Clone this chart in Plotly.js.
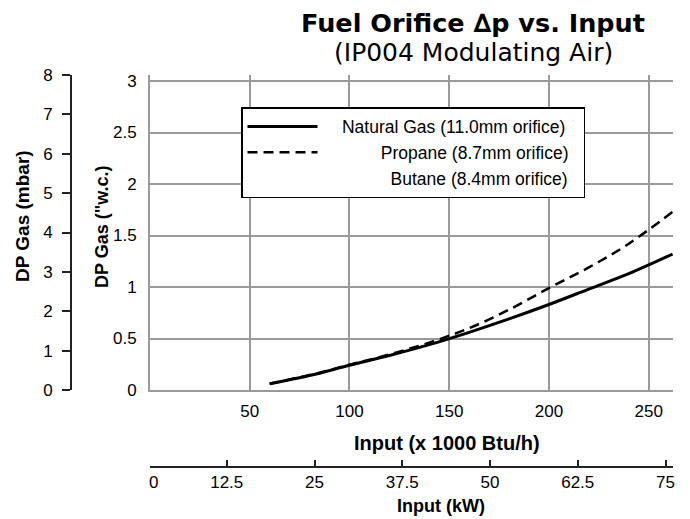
<!DOCTYPE html>
<html>
<head>
<meta charset="utf-8">
<script src="https://cdn.plot.ly/plotly-3.0.1.min.js"></script>
<style>html,body{margin:0;padding:0;background:#fff;}#chart{width:690px;height:519px;}</style>
</head>
<body>
<div id="chart"></div>
<script>
// ---- data ----
const seriesNames = ["Natural Gas (11.0mm orifice)", "Propane (8.7mm orifice)", "Butane (8.4mm orifice)"];
const inputKBtu = [60, 80, 100, 120, 140, 160, 180, 200, 220, 240, 262];
const natGasWC  = [0.06, 0.14, 0.24, 0.335, 0.44, 0.56, 0.69, 0.83, 0.98, 1.13, 1.32];
const propaneWC = [0.06, 0.145, 0.245, 0.345, 0.46, 0.60, 0.78, 0.99, 1.19, 1.42, 1.73];
const butaneX   = [null];   // no visible butane curve in the reference
const butaneWC  = [null];
const btuTicks  = [0, 50, 100, 150, 200, 250];
const btuLabels = ["", "50", "100", "150", "200", "250"];
const wcTicks   = [0, 0.5, 1, 1.5, 2, 2.5, 3];
const wcLabels  = ["0", "0.5", "1", "1.5", "2", "2.5", "3"];
const mbarTicks = [0, 1, 2, 3, 4, 5, 6, 7, 8];
const kwTicks   = [12.5, 25, 37.5, 50, 62.5, 75];
const kwLabels  = ["12.5", "25", "37.5", "50", "62.5", "75"];
const titleText = "Fuel Orifice \u2206p vs. Input";
const subtitleText = "(IP004 Modulating Air)";

// unit conversions for the secondary (kW / mbar) axes
const KBTU_PER_KW = 3.412;
const MBAR_PER_INWC = 2.4909;

// ---- geometry helpers ----
const W = 690, H = 519;
const M = {l: 71, r: 17, t: 75, b: 52};
const PW = W - M.l - M.r, PH = H - M.t - M.b;
const px = x => (x - M.l) / PW;          // pixel -> paper x
const py = y => (H - M.b - y) / PH;      // pixel -> paper y

// right-align legend labels by padding with no-break spaces
const padCounts = [4, 12, 14];
const NB = "\u00A0";
const legendName = (n, i) => NB.repeat(padCounts[i]) + n + NB + NB;

const FONT = "Liberation Sans, Arial, Helvetica, sans-serif";
const TFONT = "DejaVu Sans, Verdana, sans-serif";
const BLACK = "#000";
const GRID = "#9a9a9a";
const AXC = "#222";

const traces = [
  {x: inputKBtu, y: natGasWC, name: legendName(seriesNames[0], 0), type: "scatter", mode: "lines",
   line: {color: BLACK, width: 3, shape: "spline"}, xaxis: "x", yaxis: "y"},
  {x: inputKBtu, y: propaneWC, name: legendName(seriesNames[1], 1), type: "scatter", mode: "lines",
   line: {color: BLACK, width: 2.5, dash: "10px,6px", shape: "spline"}, xaxis: "x", yaxis: "y"},
  {x: butaneX, y: butaneWC, name: legendName(seriesNames[2], 2), type: "scatter", mode: "lines",
   line: {color: "rgba(0,0,0,0)", width: 0}, xaxis: "x", yaxis: "y"},
  // natural gas in kW / mbar: carries the secondary axes, drawn transparent
  {x: inputKBtu.map(v => v / KBTU_PER_KW), y: natGasWC.map(v => v * MBAR_PER_INWC),
   type: "scatter", mode: "lines", showlegend: false, hoverinfo: "skip",
   line: {color: "rgba(0,0,0,0)", width: 0}, xaxis: "x2", yaxis: "y3"}
];

// main y: 0 at 390px, 3 at 81px; axis domain runs 390 -> 75 so the mbar axis can reach 75px
const wcPerPx = 3 / (390 - 81);
const layout = {
  width: W, height: H,
  margin: M,
  paper_bgcolor: "#fff", plot_bgcolor: "rgba(0,0,0,0)",
  font: {family: FONT, color: BLACK, size: 17},
  title: {
    text: "<b>" + titleText + "</b>",
    font: {family: TFONT, size: 25.5, color: BLACK},
    x: 473 / W, xref: "container", xanchor: "center",
    y: 1 - 23 / H, yref: "container", yanchor: "middle"
  },
  showlegend: true,
  legend: {
    x: px(241), y: py(107), xanchor: "left", yanchor: "top",
    bgcolor: "#fff", bordercolor: BLACK, borderwidth: 1.5,
    font: {family: FONT, size: 17.5, color: BLACK},
    itemwidth: 70, tracegroupgap: 0
  },
  xaxis: {
    domain: [px(150), 1], range: [0, 262.2], anchor: "y",
    tickmode: "array", tickvals: btuTicks, ticktext: btuLabels,
    showgrid: true, gridcolor: GRID, gridwidth: 2,
    showline: true, linecolor: GRID, linewidth: 2,
    zeroline: false, ticks: "", ticklabelstandoff: 5,
    tickfont: {family: FONT, size: 17, color: BLACK}
  },
  yaxis: {
    domain: [py(390), 1], range: [0, (390 - 75) * wcPerPx], anchor: "x",
    tickmode: "array", tickvals: wcTicks, ticktext: wcLabels,
    showgrid: true, gridcolor: GRID, gridwidth: 2,
    showline: true, linecolor: GRID, linewidth: 2,
    zeroline: false, ticks: "", ticklabelstandoff: 8,
    tickfont: {family: FONT, size: 17, color: BLACK}
  },
  yaxis3: {
    overlaying: "y", range: [0, 8], anchor: "free", position: 0, side: "left",
    tickmode: "array", tickvals: mbarTicks,
    showgrid: false, zeroline: false,
    showline: true, linecolor: AXC, linewidth: 2,
    ticks: "outside", ticklen: 8, tickwidth: 2, tickcolor: AXC,
    ticklabelstandoff: 6,
    tickfont: {family: FONT, size: 17, color: BLACK}
  },
  xaxis2: {
    overlaying: "x", anchor: "free", position: 0, side: "bottom",
    range: [(150 - 139) / 7.02, (150 - 139) / 7.02 + (673 - 150) / 7.02],
    tickmode: "array", tickvals: kwTicks, ticktext: kwLabels,
    showgrid: false, zeroline: false,
    showline: true, linecolor: AXC, linewidth: 2,
    ticks: "inside", ticklen: 6, tickwidth: 2, tickcolor: AXC,
    ticklabelstandoff: 0,
    tickfont: {family: FONT, size: 17, color: BLACK}
  },
  annotations: [
    {text: subtitleText, xref: "paper", yref: "paper", x: px(473), y: py(52),
     xanchor: "center", yanchor: "middle", showarrow: false, font: {family: TFONT, size: 25, color: BLACK}},
    {text: "<b>Input (x 1000 Btu/h)</b>", xref: "paper", yref: "paper", x: px(447), y: py(443),
     xanchor: "center", yanchor: "middle", showarrow: false, font: {family: FONT, size: 20, color: BLACK}},
    {text: "<b>Input (kW)</b>", xref: "paper", yref: "paper", x: px(441), y: py(506),
     xanchor: "center", yanchor: "middle", showarrow: false, font: {family: FONT, size: 18, color: BLACK}},
    {text: "<b>DP Gas (\"w.c.)</b>", xref: "paper", yref: "paper", x: px(102), y: py(227),
     xanchor: "center", yanchor: "middle", textangle: -90, showarrow: false, font: {family: FONT, size: 18, color: BLACK}},
    {text: "<b>DP Gas (mbar)</b>", xref: "paper", yref: "paper", x: px(22), y: py(216),
     xanchor: "center", yanchor: "middle", textangle: -90, showarrow: false, font: {family: FONT, size: 19, color: BLACK}},
    {text: "0", xref: "paper", yref: "paper", x: px(153), y: py(482),
     xanchor: "center", yanchor: "middle", showarrow: false, font: {family: FONT, size: 17, color: BLACK}}
  ]
};

Plotly.newPlot("chart", traces, layout, {staticPlot: true, displayModeBar: false});
</script>
</body>
</html>
